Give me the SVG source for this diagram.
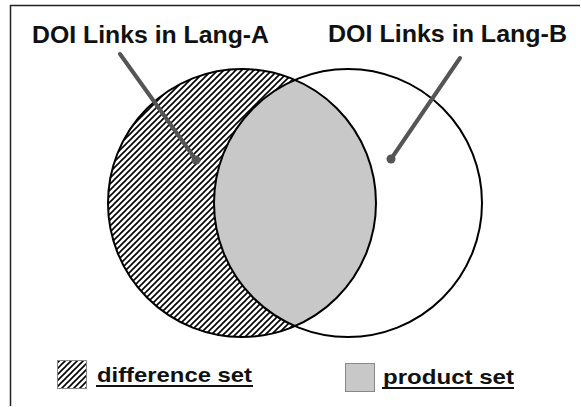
<svg xmlns="http://www.w3.org/2000/svg" width="581" height="407" viewBox="0 0 581 407">
<style>
.ttl{font-family:"Liberation Sans",Arial,sans-serif;font-weight:bold;fill:#111;}
.outline{fill:none;stroke:#000;stroke-width:2;}
.ptr{stroke:#555;stroke-width:4;stroke-linecap:round;}
.dot{fill:#555;}
.ul{stroke:#111;stroke-width:2;}
.key{stroke:#888;stroke-width:1;}
</style>
<defs>
<pattern id="hatch" patternUnits="userSpaceOnUse" x="0" y="0" width="6" height="6">
<rect width="6" height="6" fill="#fff"/>
<path d="M-1,7 L7,-1 M-1,1 L1,-1 M5,7 L7,5" stroke="#000" stroke-width="1.6" fill="none"/>
</pattern>
<clipPath id="clipB"><circle cx="348" cy="203" r="134"/></clipPath>
</defs>
<rect width="581" height="407" fill="#fff"/>
<path d="M10.5,406 V5.5 H580" fill="none" stroke="#222" stroke-width="1.5"/>
<g id="setA">
<circle cx="242" cy="203" r="134" fill="url(#hatch)"/>
</g>
<g id="intersection">
<circle cx="242" cy="203" r="134" fill="#c8c8c8" clip-path="url(#clipB)"/>
</g>
<g id="outlines">
<circle class="outline" cx="242" cy="203" r="134"/>
<circle class="outline" cx="348" cy="203" r="134"/>
</g>
<g id="labelA">
<text class="ttl" x="32" y="43" font-size="23" textLength="237" lengthAdjust="spacingAndGlyphs">DOI Links in Lang-A</text>
</g>
<g id="labelB">
<text class="ttl" x="328" y="42" font-size="23" textLength="239" lengthAdjust="spacingAndGlyphs">DOI Links in Lang-B</text>
</g>
<g id="connectors">
<line class="ptr" x1="120" y1="54" x2="196" y2="160"/>
<circle class="dot" cx="196" cy="160" r="4.5"/>
<line class="ptr" x1="460" y1="58" x2="391" y2="159"/>
<circle class="dot" cx="391" cy="159" r="4.5"/>
</g>
<g id="legendDifference">
<rect class="key" x="57.5" y="360.5" width="29" height="28" fill="url(#hatch)"/>
<text class="ttl" x="97" y="382" font-size="21" textLength="155" lengthAdjust="spacingAndGlyphs">difference set</text>
<line class="ul" x1="96" y1="386" x2="253" y2="386"/>
</g>
<g id="legendProduct">
<rect class="key" x="345.5" y="363.5" width="29" height="28" fill="#c8c8c8"/>
<text class="ttl" x="383" y="384" font-size="21" textLength="131" lengthAdjust="spacingAndGlyphs">product set</text>
<line class="ul" x1="382" y1="388" x2="514" y2="388"/>
</g>
</svg>
